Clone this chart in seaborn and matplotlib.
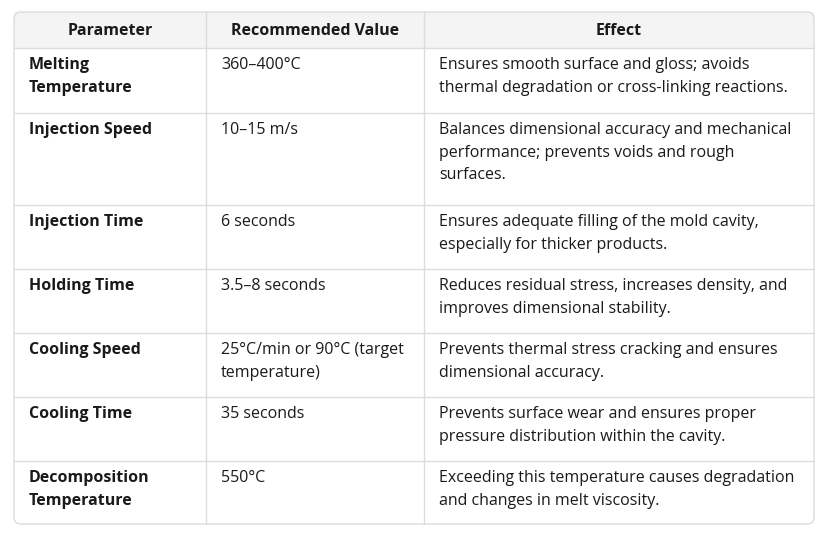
import matplotlib
matplotlib.use("Agg")
import matplotlib.pyplot as plt
from matplotlib.patches import FancyBboxPatch, Rectangle
import seaborn as sns

sns.set_theme(style="white")

headers = ["Parameter", "Recommended Value", "Effect"]
params = ["Melting\nTemperature", "Injection Speed", "Injection Time", "Holding Time",
          "Cooling Speed", "Cooling Time", "Decomposition\nTemperature"]
values = ["360–400°C", "10–15 m/s", "6 seconds", "3.5–8 seconds",
          "25°C/min or 90°C (target\ntemperature)", "35 seconds", "550°C"]
effects = ["Ensures smooth surface and gloss; avoids\nthermal degradation or cross-linking reactions.",
           "Balances dimensional accuracy and mechanical\nperformance; prevents voids and rough\nsurfaces.",
           "Ensures adequate filling of the mold cavity,\nespecially for thicker products.",
           "Reduces residual stress, increases density, and\nimproves dimensional stability.",
           "Prevents thermal stress cracking and ensures\ndimensional accuracy.",
           "Prevents surface wear and ensures proper\npressure distribution within the cavity.",
           "Exceeding this temperature causes degradation\nand changes in melt viscosity."]

W, H = 828, 537
fig = plt.figure(figsize=(W / 100, H / 100), dpi=100)
ax = fig.add_axes([0, 0, 1, 1])
ax.set_xlim(0, W)
ax.set_ylim(H, 0)
ax.axis("off")

left, right, top, bottom = 14, 814, 12, 524
cols = [14, 206, 424, 814]
rows = [12, 48, 113, 205, 269, 333, 397, 461, 524]
line_c = "#dcdcdc"
font = "Open Sans"

ax.add_patch(Rectangle((left, top), right - left, rows[1] - top, facecolor="#f4f4f4", edgecolor="none"))
ax.add_patch(FancyBboxPatch((left, top), right - left, bottom - top, boxstyle="round,pad=0,rounding_size=7",
                            facecolor="none", edgecolor=line_c, lw=1))
for y in rows[1:-1]:
    ax.plot([left, right], [y, y], color=line_c, lw=1)
for x in cols[1:-1]:
    ax.plot([x, x], [top, bottom], color=line_c, lw=1)

for i, h in enumerate(headers):
    ax.text((cols[i] + cols[i + 1]) / 2, (rows[0] + rows[1]) / 2 + 1, h, ha="center", va="center",
            fontsize=11.5, fontweight="bold", family=font, color="#1a1a1a")

for r in range(len(params)):
    y0 = rows[r + 1] + 9
    for c, (txt, bold) in enumerate([(params[r], True), (values[r], False), (effects[r], False)]):
        ax.text(cols[c] + 15, y0, txt, ha="left", va="top", fontsize=11.5,
                fontweight="bold" if bold else "normal", family=font, color="#1a1a1a",
                linespacing=1.55)

fig.savefig("out.png", dpi=100)
